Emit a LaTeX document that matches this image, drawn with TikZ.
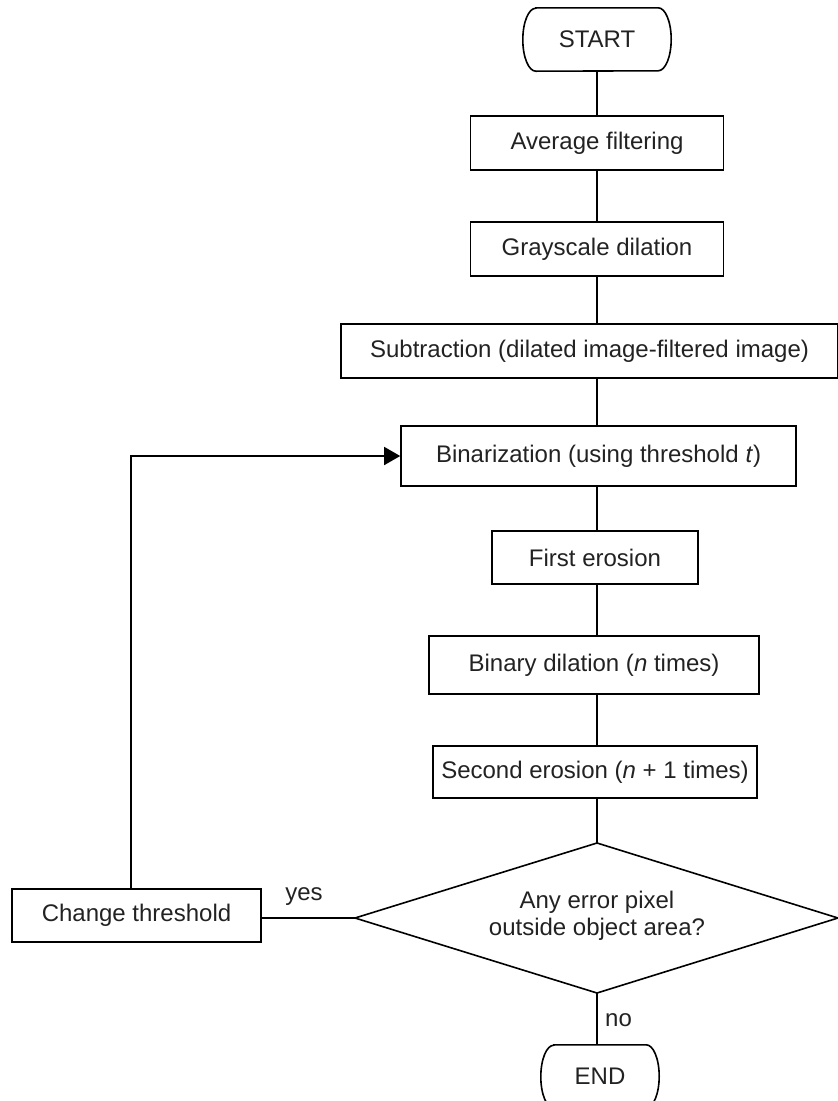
\documentclass[tikz,border=0pt]{standalone}
\usepackage{fontspec}
\setmainfont{Liberation Sans}
\usetikzlibrary{arrows.meta}
\definecolor{txt}{HTML}{222222}
\tikzset{
  base/.style={font=\fontsize{24}{27}\selectfont, text=txt, inner sep=0pt, align=center},
  procbox/.style={base, draw, line width=1.6pt, rectangle},
  termbox/.style={base, minimum width=148pt, minimum height=63pt},
  conn/.style={line width=1.6pt},
  arr/.style={line width=1.6pt, -{Triangle[length=16pt,width=18pt]}},
  lbl/.style={base}
}
\newcommand{\stadium}[1]{%
  \draw[line width=1.6pt] ([xshift=13pt]#1.north west) -- ([xshift=-13pt]#1.north east)
    arc[start angle=90,end angle=-90,x radius=13pt,y radius=31.5pt]
    -- ([xshift=13pt]#1.south west)
    arc[start angle=270,end angle=90,x radius=13pt,y radius=31.5pt] -- cycle;}
\begin{document}
\begin{tikzpicture}[x=1pt,y=-1pt]
\useasboundingbox (0,0) rectangle (838,1101);
\node[termbox] (start) at (597,39.5) {START};
\stadium{start}
\node[procbox, minimum width=253pt, minimum height=54pt] (avg) at (597,143) {Average filtering};
\node[procbox, minimum width=253pt, minimum height=54pt] (gray) at (597,249) {Grayscale dilation};
\node[procbox, minimum width=497pt, minimum height=54pt] (sub) at (589.5,351) {Subtraction (dilated image-filtered image)};
\node[procbox, minimum width=395pt, minimum height=60pt] (bin) at (598.5,456) {Binarization (using threshold \textit{t})};
\node[procbox, minimum width=206pt, minimum height=53pt] (fe) at (595,557.5) {First erosion};
\node[procbox, minimum width=330pt, minimum height=58pt] (bd) at (594,665) {Binary dilation (\textit{n} times)};
\node[procbox, minimum width=324pt, minimum height=52pt] (se) at (595,772) {Second erosion (\textit{n} + 1 times)};
% decision diamond
\coordinate (dtop) at (597,843);
\coordinate (dbot) at (597,993);
\coordinate (dl) at (355,918);
\coordinate (dr) at (838,918);
\draw[line width=1.6pt] (dtop) -- (dr) -- (dbot) -- (dl) -- cycle;
\node[base] (dec) at (597,916) {Any error pixel\\outside object area?};
\node[procbox, minimum width=249pt, minimum height=53pt] (ct) at (136.5,915.5) {Change threshold};
\node[termbox, minimum width=118pt] (end) at (600,1076.5) {END};
\stadium{end}
\draw[conn] (start.south) -- (start.south |- avg.north);
\draw[conn] (avg.south) -- (avg.south |- gray.north);
\draw[conn] (gray.south) -- (gray.south |- sub.north);
\draw[conn] (gray.south |- sub.south) -- (gray.south |- bin.north);
\draw[conn] (gray.south |- bin.south) -- (gray.south |- fe.north);
\draw[conn] (gray.south |- fe.south) -- (gray.south |- bd.north);
\draw[conn] (gray.south |- bd.south) -- (gray.south |- se.north);
\draw[conn] (gray.south |- se.south) -- (dtop);
\draw[conn] (dbot) -- (dbot |- end.north);
\draw[conn] (dl) -- (ct.east |- dl);
\draw[arr] ([xshift=-5.5pt]ct.north) |- (bin.west);
\node[lbl] (yes) at (304,897) {yes};
\node[lbl, anchor=west] (no) at (605,1020) {no};
\end{tikzpicture}
\end{document}
